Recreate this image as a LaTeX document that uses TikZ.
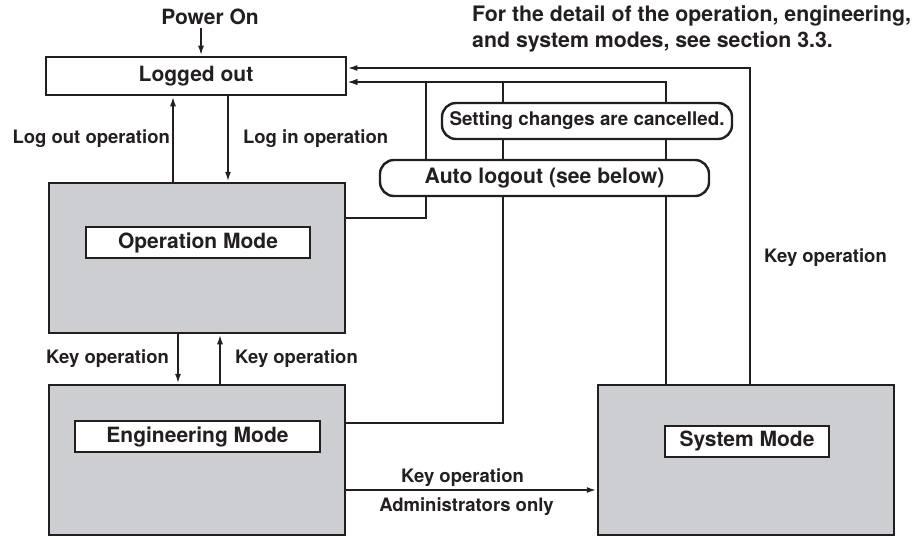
\documentclass[tikz,border=0pt]{standalone}
\usepackage{fontspec}
\setmainfont{TeX Gyre Heros}
\usetikzlibrary{arrows.meta}
\definecolor{modegray}{RGB}{205,206,209}
\definecolor{ink}{RGB}{35,31,32}
\begin{document}
\begin{tikzpicture}[x=1pt,y=-1pt,>={Latex[length=10pt,width=6pt]},
  every node/.style={font=\bfseries\fontsize{18.5}{22}\selectfont,text=ink},
  lbl/.style={inner sep=2pt},
  modebox/.style={draw=ink,line width=2.5pt,fill=modegray,minimum width=296pt,minimum height=150pt},
  titlebox/.style={draw=ink,line width=2.6pt,fill=white,minimum height=31pt,inner sep=0pt,
    font=\bfseries\fontsize{21}{24}\selectfont},
  roundbox/.style={draw=ink,line width=2.4pt,rounded corners=14pt,minimum height=36pt,inner sep=0pt},
  wire/.style={draw=ink,line width=2.2pt}]
  \useasboundingbox (0,0) rectangle (917,536);

  % boxes
  \node[titlebox,minimum width=300pt,minimum height=38pt] (lo) at (196,76) {Logged out};
  \node[font=\bfseries\fontsize{21}{24}\selectfont] (power) at (210,17) {Power On};
  \node[anchor=north west,align=left,inner sep=0pt,font=\bfseries\fontsize{21.3}{26}\selectfont]
    (note) at (472,5) {For the detail of the operation, engineering,\\and system modes, see section 3.3.};
  \node[modebox] (op) at (197,258) {};
  \node[titlebox,minimum width=224pt] (opt) at (198,242.5) {Operation Mode};
  \node[modebox] (eng) at (197,460) {};
  \node[titlebox,minimum width=245pt] (engt) at (197.5,436.5) {Engineering Mode};
  \node[modebox] (sys) at (746,460) {};
  \node[titlebox,minimum width=164pt] (syst) at (747,441.5) {System Mode};
  \node[roundbox,minimum width=290pt,font=\bfseries\fontsize{18.8}{22}\selectfont]
    (cancel) at (587,121) {Setting changes are cancelled.};
  \node[roundbox,minimum width=329pt,font=\bfseries\fontsize{21.2}{24}\selectfont]
    (auto) at (544.5,178) {Auto logout (see below)};

  % buses into Logged out
  \coordinate (busa) at ([yshift=8pt]lo.east);
  \coordinate (busb) at ([yshift=-6pt]lo.east);

  % log in / log out
  \draw[wire,->] ([xshift=-9pt]power.south) -- ([xshift=-9pt]power.south |- lo.north);
  \draw[wire,->] ([xshift=-24pt]op.north) -- node[left,lbl]{Log out operation} ([xshift=-24pt]op.north |- lo.south);
  \draw[wire,->] ([xshift=32pt]lo.south) -- node[right=12pt,lbl]{Log in operation} ([xshift=32pt]lo.south |- op.north);

  % key operations
  \draw[wire,->] ([xshift=-19pt]op.south) -- node[left=6pt,lbl]{Key operation} ([xshift=-19pt]op.south |- eng.north);
  \draw[wire,->] ([xshift=23pt]eng.north) -- node[right=12pt,lbl]{Key operation} ([xshift=23pt]eng.north |- op.south);
  \draw[wire,->] ([yshift=-30pt]eng.east) -- node[above,xshift=-9pt,lbl]{Key operation}
    node[below=5pt,xshift=-5pt,lbl]{Administrators only} ([yshift=-30pt]eng.east -| sys.west);
  \draw[wire,->] ([xshift=4pt]sys.north) |- node[pos=0.2,right=11pt,lbl]{Key operation} (busa);

  % auto logout
  \draw[wire] ([yshift=40pt]op.east) -| ([xshift=-118.5pt]auto.south);
  \draw[wire] ([yshift=37pt]eng.east) -| ([xshift=-41.5pt]auto.south);
  \draw[wire] ([xshift=-80pt]sys.north) -- ([xshift=-80pt]sys.north |- auto.south);
  \draw[wire,->] ([xshift=-118.5pt]auto.north) |- (busb);
  \draw[wire] ([xshift=-41.5pt]auto.north) -- ([xshift=-41.5pt]auto.north |- cancel.south);
  \draw[wire] ([xshift=121.5pt]auto.north) -- ([xshift=121.5pt]auto.north |- cancel.south);
  \draw[wire] ([xshift=-84pt]cancel.north) -- ([xshift=-84pt]cancel.north |- busb);
  \draw[wire,->] ([xshift=79pt]cancel.north) |- (busb);
\end{tikzpicture}
\end{document}
